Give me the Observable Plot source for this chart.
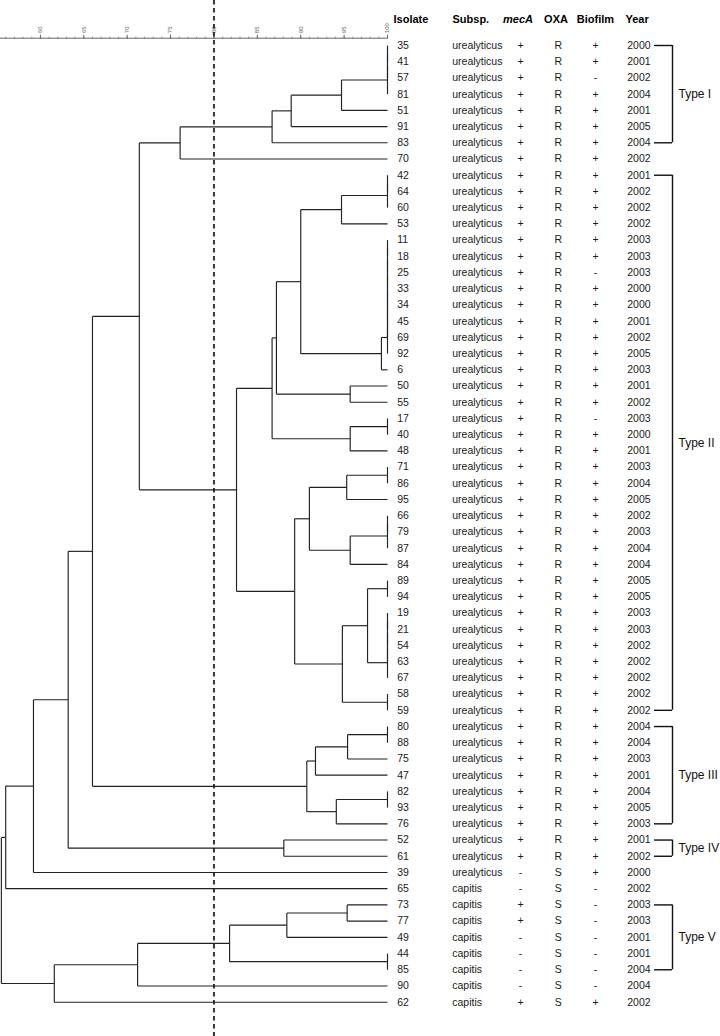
<!DOCTYPE html>
<html>
<head>
<meta charset="utf-8">
<script src="https://cdn.jsdelivr.net/npm/d3@7"></script>
<script src="https://cdn.jsdelivr.net/npm/@observablehq/plot@0.6"></script>
<style>
  html, body { margin: 0; padding: 0; background: #fff; }
  svg { display: block; }
</style>
</head>
<body>
<div id="chart"></div>
<script>
// ---- Data ----
const isolates = ["35","41","57","81","51","91","83","70",
  "42","64","60","53","11","18","25","33","34","45","69","92","6","50","55","17","40","48",
  "71","86","95","66","79","87","84","89","94","19","21","54","63","67","58","59",
  "80","88","75","47","82","93","76","52","61","39","65",
  "73","77","49","44","85","90","62"];
const subspList = ["urealyticus","urealyticus","urealyticus","urealyticus","urealyticus","urealyticus","urealyticus","urealyticus",
  "urealyticus","urealyticus","urealyticus","urealyticus","urealyticus","urealyticus","urealyticus","urealyticus","urealyticus","urealyticus","urealyticus","urealyticus","urealyticus","urealyticus","urealyticus","urealyticus","urealyticus","urealyticus",
  "urealyticus","urealyticus","urealyticus","urealyticus","urealyticus","urealyticus","urealyticus","urealyticus","urealyticus","urealyticus","urealyticus","urealyticus","urealyticus","urealyticus","urealyticus","urealyticus",
  "urealyticus","urealyticus","urealyticus","urealyticus","urealyticus","urealyticus","urealyticus","urealyticus","urealyticus","urealyticus","capitis",
  "capitis","capitis","capitis","capitis","capitis","capitis","capitis"];
const mecA = ["+","+","+","+","+","+","+","+",
  "+","+","+","+","+","+","+","+","+","+","+","+","+","+","+","+","+","+",
  "+","+","+","+","+","+","+","+","+","+","+","+","+","+","+","+",
  "+","+","+","+","+","+","+","+","+","-","-",
  "+","+","-","-","-","-","+"];
const oxa = ["R","R","R","R","R","R","R","R",
  "R","R","R","R","R","R","R","R","R","R","R","R","R","R","R","R","R","R",
  "R","R","R","R","R","R","R","R","R","R","R","R","R","R","R","R",
  "R","R","R","R","R","R","R","R","R","S","S",
  "S","S","S","S","S","S","S"];
const biofilm = ["+","+","-","+","+","+","+","+",
  "+","+","+","+","+","+","-","+","+","+","+","+","+","+","+","-","+","+",
  "+","+","+","+","+","+","+","+","+","+","+","+","+","+","+","+",
  "+","+","+","+","+","+","+","+","+","+","-",
  "-","-","-","-","-","-","+"];
const years = ["2000","2001","2002","2004","2001","2005","2004","2002",
  "2001","2002","2002","2002","2003","2003","2003","2000","2000","2001","2002","2005","2003","2001","2002","2003","2000","2001",
  "2003","2004","2005","2002","2003","2004","2004","2005","2005","2003","2003","2002","2002","2002","2002","2002",
  "2004","2004","2003","2001","2004","2005","2003","2001","2002","2000","2002",
  "2003","2003","2001","2001","2004","2004","2002"];

// Cluster merges: [child A, child B, similarity %]; "#k" refers to merge k
const merges = [
  ["35","41",100], ["#0","57",100], ["#1","81",100], ["#2","51",94.7], ["#3","91",88.9],
  ["#4","83",86.7], ["#5","70",76.1],
  ["42","64",100], ["#7","60",100], ["#8","53",94.7],
  ["11","18",100], ["#10","25",100], ["#11","33",100], ["#12","34",100], ["#13","45",100],
  ["#14","69",100], ["#15","92",100], ["#16","6",99.3],
  ["#9","#17",90.0], ["50","55",95.7], ["#18","#19",87.2],
  ["17","40",100], ["#21","48",95.7], ["#20","#22",86.7],
  ["71","86",100], ["#24","95",95.3], ["66","79",100], ["#26","87",100], ["#27","84",95.7],
  ["#25","#28",91.0], ["89","94",100], ["19","21",100], ["#31","54",100], ["#32","63",100],
  ["#33","67",100], ["#30","#34",97.7], ["58","59",100], ["#35","#36",94.8],
  ["#29","#37",89.3], ["#23","#38",82.6], ["#6","#39",71.4],
  ["80","88",100], ["#41","75",95.4], ["#42","47",91.7], ["82","93",100], ["#44","76",94.1],
  ["#43","#45",90.7], ["#40","#46",66.0], ["52","61",88.05], ["#47","#48",63.2],
  ["#49","39",59.2], ["#50","65",56.0],
  ["73","77",95.35], ["#52","49",88.4], ["44","85",100], ["#53","#54",81.8],
  ["#55","90",71.2], ["#56","62",61.6],
  ["#51","#57",55.5]
];

const typeNames = ["Type I","Type II","Type III","Type IV","Type V"];
const typeFirst = ["35","42","80","52","73"];
const typeLast  = ["83","59","76","61","85"];

const majorTicks = d3.range(60, 101, 5);
const minorTicks = d3.range(56, 100, 1);
const cutoff = [80];

// ---- Build geometry from the tree ----
const rows = isolates.map((id, i) => ({
  id, i, subsp: subspList[i], mecA: mecA[i], oxa: oxa[i], biofilm: biofilm[i], year: years[i]
}));
const nodes = [];
const posOf = (ref) => ref.startsWith("#") ? nodes[+ref.slice(1)] : {x: 100, y: isolates.indexOf(ref)};
const segs = [];
for (const [a, b, s] of merges) {
  const A = posOf(a), B = posOf(b);
  segs.push({x1: s, x2: s, y1: A.y, y2: B.y});
  segs.push({x1: s, x2: A.x, y1: A.y, y2: A.y});
  segs.push({x1: s, x2: B.x, y1: B.y, y2: B.y});
  nodes.push({x: s, y: (A.y + B.y) / 2});
}
const groups = typeNames.map((name, k) => {
  const f = isolates.indexOf(typeFirst[k]), l = isolates.indexOf(typeLast[k]);
  return {name, f, l, m: (f + l) / 2};
});
const bracketEnds = groups.flatMap(g => [g.f, g.l]);

const headers = [
  {t: "Isolate", dx: 6, anchor: "start", style: "normal"},
  {t: "Subsp.", dx: 65, anchor: "start", style: "normal"},
  {t: "mecA", dx: 130.5, anchor: "middle", style: "italic"},
  {t: "OXA", dx: 168.5, anchor: "middle", style: "normal"},
  {t: "Biofilm", dx: 208, anchor: "middle", style: "normal"},
  {t: "Year", dx: 238, anchor: "start", style: "normal"}
];

const H = 1036, MT = 37.7, MB = 34;
const ink = "#1a1a1a";

const chart = Plot.plot({
  width: 720,
  height: H,
  marginLeft: 0,
  marginRight: 333,
  marginTop: MT,
  marginBottom: MB,
  x: {domain: [55.4, 100]},
  y: {domain: [0, 59], range: [45, 1001.7], axis: null},
  style: {fontFamily: "'Liberation Sans', Arial, sans-serif", fontSize: "10.5px", background: "#fff", color: ink},
  marks: [
    // axis
    Plot.ruleY([0], {dy: -7.3, stroke: "#666", strokeWidth: 1}),
    Plot.axisX({anchor: "top", ticks: minorTicks, tickSize: 2, stroke: "#888", fill: "none", label: null}),
    Plot.axisX({anchor: "top", ticks: majorTicks, tickSize: 4, tickPadding: 1, tickRotate: -90,
      fontSize: 6, stroke: "#666", fill: "#666", label: null}),
    // cut-off line
    Plot.ruleX(cutoff, {stroke: "#333", strokeWidth: 2, strokeDasharray: "4.5,3.5",
      insetTop: -MT, insetBottom: -MB}),
    // dendrogram
    Plot.link(segs, {x1: "x1", y1: "y1", x2: "x2", y2: "y2", stroke: "#222", strokeWidth: 1.15}),
    // headers
    ...headers.map(h => Plot.text([h], {text: "t", frameAnchor: "top-right", dx: h.dx, dy: -23.5,
      textAnchor: h.anchor, fontWeight: "bold", fontStyle: h.style, fontSize: 11, fill: "#000"})),
    // table columns
    Plot.text(rows, {y: "i", text: "id", frameAnchor: "right", dx: 9.7, textAnchor: "start", fill: ink}),
    Plot.text(rows, {y: "i", text: "subsp", frameAnchor: "right", dx: 64.7, textAnchor: "start", fill: ink}),
    Plot.text(rows, {y: "i", text: "mecA", frameAnchor: "right", dx: 133, textAnchor: "middle", fill: ink}),
    Plot.text(rows, {y: "i", text: "oxa", frameAnchor: "right", dx: 170.7, textAnchor: "middle", fill: ink}),
    Plot.text(rows, {y: "i", text: "biofilm", frameAnchor: "right", dx: 208, textAnchor: "middle", fill: ink}),
    Plot.text(rows, {y: "i", text: "year", frameAnchor: "right", dx: 239.7, textAnchor: "start", fill: ink}),
    // type brackets
    Plot.ruleY(bracketEnds, {y: d => d, x1: 100, x2: 100, insetRight: -18, dx: 267, stroke: "#111", strokeWidth: 1.4}),
    Plot.ruleX(groups, {x: () => 100, y1: "f", y2: "l", dx: 285, stroke: "#111", strokeWidth: 1.4}),
    Plot.text(groups, {y: "m", text: "name", frameAnchor: "right", dx: 291, textAnchor: "start", fontSize: 12, fill: "#111"})
  ]
});
document.getElementById("chart").appendChild(chart);
</script>
</body>
</html>
